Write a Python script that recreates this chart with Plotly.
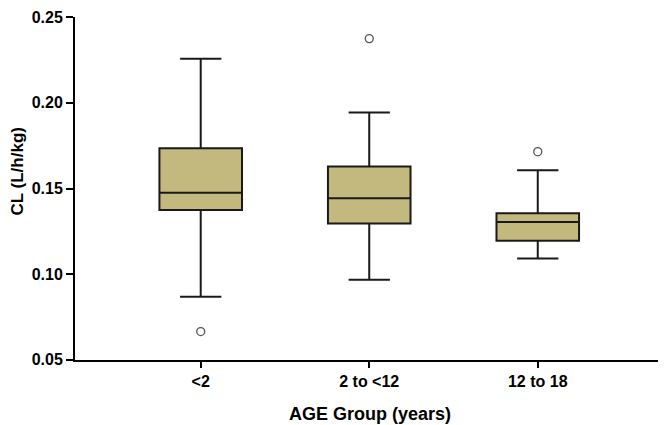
import plotly.graph_objects as go

categories = ["<2", "2 to <12", "12 to 18"]
q1 = [0.1374, 0.1295, 0.1195]
median = [0.1475, 0.1443, 0.1305]
q3 = [0.1735, 0.1628, 0.1355]
lower_whisker = [0.0868, 0.0968, 0.1092]
upper_whisker = [0.2258, 0.1943, 0.1606]
outlier_x = ["<2", "2 to <12", "12 to 18"]
outlier_y = [0.0665, 0.2375, 0.1715]

FONT = "Liberation Sans"

fig = go.Figure()
fig.add_trace(go.Box(
    x=categories, q1=q1, median=median, q3=q3,
    lowerfence=lower_whisker, upperfence=upper_whisker,
    fillcolor="#C3B87E",
    line=dict(color="#1a1a1a", width=2),
    whiskerwidth=0.5,
    width=0.49,
    boxpoints=False,
    showlegend=False,
))
fig.add_trace(go.Scatter(
    x=outlier_x, y=outlier_y, mode="markers",
    marker=dict(symbol="circle-open", size=8, color="#555555", line=dict(width=1.3)),
    showlegend=False,
))

# page has an 8px body margin, so the figure is sized to fit inside the window
fig.update_layout(
    width=658, height=417,
    margin=dict(l=67, r=1, t=9, b=65),
    plot_bgcolor="white", paper_bgcolor="white",
    font=dict(family=FONT, color="black"),
    annotations=[
        dict(text="CL (L/h/kg)", textangle=-90, xref="paper", yref="paper",
             x=-0.098, y=0.55, xanchor="center", yanchor="middle", showarrow=False,
             font=dict(family=FONT, size=17, weight="bold")),
        dict(text="AGE Group (years)", xref="paper", yref="paper",
             x=0.5, y=-0.158, xanchor="center", yanchor="middle", showarrow=False,
             font=dict(family=FONT, size=18, weight="bold")),
    ],
)
fig.update_xaxes(
    type="category",
    range=[-0.746, 2.755],
    automargin=False,
    showline=True, linecolor="black", linewidth=2,
    ticks="outside", ticklen=6, tickwidth=2, tickcolor="black",
    showgrid=False, zeroline=False,
    tickfont=dict(family=FONT, size=16, weight="bold"),
)
fig.update_yaxes(
    range=[0.0499, 0.2501],
    automargin=False,
    tickvals=[0.05, 0.10, 0.15, 0.20, 0.25],
    tickformat=".2f",
    ticklabeloverflow="allow",
    showline=True, linecolor="black", linewidth=2,
    ticks="outside", ticklen=7, tickwidth=2, tickcolor="black",
    showgrid=False, zeroline=False,
    tickfont=dict(family=FONT, size=16, weight="bold"),
)

fig.write_html("out.html")
